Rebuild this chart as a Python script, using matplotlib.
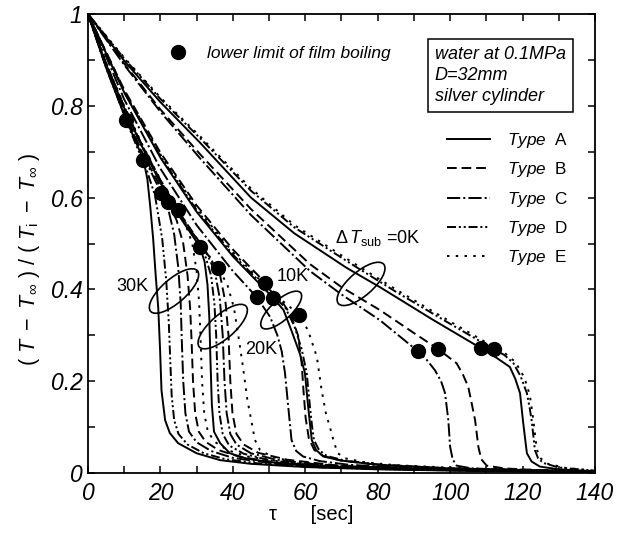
import matplotlib
matplotlib.use('Agg')
import matplotlib.pyplot as plt
from matplotlib.lines import Line2D
from matplotlib.patches import Ellipse
from matplotlib.transforms import ScaledTranslation

# ############################ curves: (tau [sec], (T-Tinf)/(Ti-Tinf)) ##########################

# subcooling 30K
A30 = [(0, 1), (5, .883), (10, .78), (15.3, .683), (16.4, .64), (17.2, .58), (18.0, .51), (18.7, .43), (19.4, .36),
       (19.9, .27), (20.3, .18), (21.3, .115), (22.6, .087), (24.9, .065), (30, .043), (36.5, .028), (45, .02),
       (60, .013), (80, .008), (110, .004), (140, .002)]
B30 = [(0, 1), (5, .887), (10, .787), (15, .698), (22.2, .591), (24.5, .55), (26.3, .5), (27.5, .43), (28.2, .36),
       (28.6, .29), (29, .2), (29.6, .13), (30.6, .09), (32.5, .068), (36, .05), (42, .035), (52, .023), (68, .014),
       (95, .007), (140, .002)]
C30 = [(0, 1), (5, .885), (10, .785), (15, .695), (20.3, .609), (22.3, .57), (23.8, .52), (24.9, .45), (25.6, .37),
       (25.9, .29), (26.3, .2), (26.9, .13), (27.9, .09), (30, .067), (34, .048), (40, .033), (50, .022), (65, .013),
       (90, .007), (140, .002)]
D30 = [(0, 1), (5, .883), (10.5, .77), (13, .72), (16, .665), (18.5, .605), (20.5, .51), (21.6, .42), (22.3, .33),
       (22.7, .25), (23.1, .17), (23.8, .115), (25, .085), (27.5, .062), (32, .043), (38, .03), (48, .02), (65, .012),
       (90, .007), (140, .002)]
E30 = [(0, 1), (5, .89), (10, .795), (15, .71), (20, .635), (24.9, .573), (27, .54), (28.8, .5), (30, .44), (30.7, .37),
       (31.1, .29), (31.5, .2), (32.1, .13), (33.1, .09), (35, .068), (38.5, .05), (44, .036), (54, .024), (70, .014),
       (95, .007), (140, .002)]

# subcooling 20K
A20 = [(0, 1), (5, .89), (10, .795), (15, .71), (20, .632), (25, .562), (30.9, .493), (32.2, .46), (33.0, .41),
       (33.5, .34), (33.8, .25), (34.2, .15), (34.8, .09), (36.5, .065), (39.2, .043), (44, .031), (52, .022),
       (65, .014), (90, .008), (140, .002)]
B20 = [(0, 1), (5, .892), (10, .798), (15, .713), (20, .638), (25, .57), (30, .512), (34, .465), (36.5, .43), (38, .37),
       (38.8, .3), (39.3, .2), (39.9, .13), (41, .085), (43, .062), (47, .044), (55, .029), (68, .017), (95, .009),
       (140, .002)]
C20 = [(0, 1), (5, .891), (10, .797), (15, .712), (20, .637), (25, .568), (30, .51), (33, .475), (35, .44), (36.4, .38),
       (37.2, .3), (37.7, .2), (38.3, .13), (39.3, .085), (41, .062), (45, .043), (52, .029), (65, .017), (90, .009),
       (140, .002)]
D20 = [(0, 1), (5, .89), (10, .795), (15, .71), (20, .635), (25, .565), (30, .505), (32.5, .47), (34, .43), (34.9, .37),
       (35.4, .3), (35.8, .2), (36.3, .13), (37.2, .085), (39, .06), (43, .042), (50, .028), (62, .017), (85, .009),
       (140, .002)]
E20 = [(0, 1), (5, .894), (10, .8), (15, .715), (20, .639), (25, .571), (30, .51), (36, .446), (38.5, .41), (40.3, .36),
       (41.5, .3), (42.8, .231), (44, .16), (45.2, .11), (46.1, .072), (47.5, .05), (51, .035), (57, .024), (70, .015),
       (95, .008), (140, .002)]

# subcooling 10K
A10 = [(0, 1), (10, .829), (20, .687), (30, .569), (40, .472), (51.2, .381), (54, .355), (56.2, .31), (58.5, .26),
       (59.9, .218), (60.8, .144), (61.4, .1), (61.8, .072), (63, .05), (65, .036), (70, .027), (80, .018), (100, .01),
       (140, .003)]
B10 = [(0, 1), (10, .835), (20, .698), (30, .583), (40, .487), (48.9, .415), (53, .38), (56, .345), (58, .3), (59, .24),
       (59.5, .18), (60.1, .12), (61, .075), (62.5, .05), (65, .037), (70, .027), (80, .018), (100, .01), (140, .003)]
C10 = [(0, 1), (10, .814), (20, .663), (30, .54), (40, .44), (46.6, .383), (50.3, .34), (52.3, .3), (53.5, .265),
       (54.4, .218), (55.3, .144), (56.2, .072), (57.5, .048), (59.4, .036), (64, .026), (72, .018), (90, .01),
       (140, .003)]
D10 = [(0, 1), (10, .83), (20, .69), (30, .573), (40, .476), (50, .396), (54.5, .36), (57, .32), (59, .27), (60.4, .218),
       (61.3, .144), (61.9, .1), (62.4, .072), (63.8, .05), (66, .037), (71, .027), (81, .018), (100, .01), (140, .003)]
E10 = [(0, 1), (10, .833), (20, .694), (30, .578), (40, .481), (50, .4), (58.4, .344), (60.8, .31), (63.2, .253),
       (64.5, .181), (65.7, .13), (66.8, .1), (68, .065), (69, .043), (71, .032), (76, .024), (85, .017), (105, .01),
       (140, .004)]

# saturated, 0K
A0 = [(0, 1), (10, .898), (20, .808), (30.9, .72), (45, .6), (57, .522), (71.4, .447), (80.6, .405), (95, .335),
      (108.5, .272), (113, .25), (116.5, .231), (118, .205), (119.3, .174), (120.1, .115), (120.7, .075), (121.2, .043),
      (122.5, .025), (124.8, .014), (130, .008), (140, .004)]
B0 = [(0, 1), (10, .892), (20, .792), (30.9, .695), (45, .575), (61.3, .455), (70, .405), (80.6, .355), (90, .305),
      (96.7, .27), (99, .256), (101.8, .239), (103.5, .215), (105, .188), (106, .15), (106.9, .115), (107.8, .057),
      (108.6, .03), (110.1, .016), (115, .01), (125, .006), (140, .003)]
C0 = [(0, 1), (10, .889), (20, .787), (30.9, .686), (45, .562), (61.3, .44), (70, .389), (80.6, .333), (91, .266),
      (93.5, .247), (95.8, .224), (97.5, .2), (98.6, .174), (99.5, .115), (100, .057), (100.7, .03), (101.8, .016),
      (106, .01), (120, .006), (140, .003)]
D0 = [(0, 1), (10, .903), (20, .815), (30.9, .73), (45, .615), (57, .535), (72.4, .457), (85, .395), (100, .325),
      (112, .27), (115, .257), (117.5, .239), (119.5, .21), (121.2, .174), (122, .14), (122.5, .115), (123, .08),
      (123.4, .05), (124.3, .032), (125.7, .022), (130, .012), (140, .005)]
E0 = [(0, 1), (10, .905), (20, .818), (30.9, .734), (45, .62), (57, .54), (72.4, .462), (85, .4), (100, .33),
      (112, .275), (115, .262), (118, .242), (120.5, .208), (122, .17), (122.9, .12), (123.5, .08), (124, .05),
      (125, .032), (127, .02), (132, .011), (140, .005)]

# lower limit of film boiling
dot_x = [10.5, 15.3, 20.3, 22.2, 24.9, 30.9, 36.0, 46.6, 48.9, 51.2, 58.4, 91.0, 96.7, 108.5, 112.0]
dot_y = [0.77, 0.683, 0.609, 0.591, 0.573, 0.493, 0.446, 0.383, 0.415, 0.381, 0.344, 0.266, 0.27, 0.272, 0.27]

type_names = ['A', 'B', 'C', 'D', 'E']
curves = [(A30, 'A'), (B30, 'B'), (C30, 'C'), (D30, 'D'), (E30, 'E'),
          (A20, 'A'), (B20, 'B'), (C20, 'C'), (D20, 'D'), (E20, 'E'),
          (A10, 'A'), (B10, 'B'), (C10, 'C'), (D10, 'D'), (E10, 'E'),
          (A0, 'A'), (B0, 'B'), (C0, 'C'), (D0, 'D'), (E0, 'E')]

x_ticks = [0, 20, 40, 60, 80, 100, 120, 140]
x_tick_labels = ['0', '20', '40', '60', '80', '100', '120', '140']
y_ticks = [0, 0.2, 0.4, 0.6, 0.8, 1.0]
y_tick_labels = ['0', '0.2', '0.4', '0.6', '0.8', '1']

# ############################################## plot ###############################################################

plt.rcParams['font.family'] = 'Liberation Sans'
plt.rcParams['mathtext.fontset'] = 'custom'
plt.rcParams['mathtext.rm'] = 'Liberation Sans'
plt.rcParams['mathtext.it'] = 'Liberation Sans:italic'
plt.rcParams['mathtext.bf'] = 'Liberation Sans:bold'
plt.rcParams['lines.scale_dashes'] = False

styles = {'A': '-',
          'B': (0, (7, 3.5)),
          'C': (0, (9.5, 2.2, 1.5, 2.2)),
          'D': (0, (6.5, 2, 1.5, 2, 1.5, 2)),
          'E': (0, (1.8, 4.5))}

fig = plt.figure(figsize=(6.24, 5.34), dpi=100)
ax = fig.add_axes([0.141, 0.1142, 0.8125, 0.8596])

for curve, kind in curves:
    xs, ys = zip(*curve)
    ax.plot(xs, ys, color='black', lw=1.4, ls=styles[kind])

ax.plot(dot_x, dot_y, 'o', color='black', ms=10, zorder=5)

ax.set_xlim(0, 140)
ax.set_ylim(0, 1)
ax.set_xticks(x_ticks, x_tick_labels, fontsize=16.5, fontstyle='italic')
ax.set_yticks(y_ticks, y_tick_labels, fontsize=16.5, fontstyle='italic')
ax.set_xticks(range(10, 140, 20), minor=True)
ax.set_yticks([0.1, 0.3, 0.5, 0.7, 0.9], minor=True)
ax.tick_params(which='both', direction='in', top=True, right=True, length=5, width=1.1)
ax.tick_params(axis='x', pad=6.5)
ax.tick_params(axis='y', pad=4)
for sp in ax.spines.values():
    sp.set_linewidth(1.3)

ax.set_xlabel('\u03c4      [sec]', fontsize=14.5)
ax.xaxis.set_label_coords(0.44, -0.07)
ax.set_ylabel(r'$(\ T\ -\ T_{\infty}\ )\ /\ (\ T_{\rm i}\ -\ T_{\infty}\ )$', fontsize=15.5)
ax.yaxis.set_label_coords(-0.09, 0.466)


# rings around each subcooling bundle (sizes in inches, centred on a data point)
def ring(cx, cy, w, h, ang):
    tr = fig.dpi_scale_trans + ScaledTranslation(cx, cy, ax.transData)
    ax.add_patch(Ellipse((0, 0), w, h, angle=ang, transform=tr, fill=False, lw=1.2, ec='black'))


ring(23.75, 0.3965, 0.62, 0.24, 41)
ring(37.2, 0.319, 0.62, 0.24, 41)
ring(53.35, 0.355, 0.52, 0.20, 42)
ring(75.4, 0.412, 0.60, 0.24, 41)

ax.text(12.3, 0.406, '30K', fontsize=13, ha='center', va='center')
ax.text(47.9, 0.27, '20K', fontsize=13, ha='center', va='center')
ax.text(56.6, 0.428, '10K', fontsize=13, ha='center', va='center')
ax.text(68.2, 0.501, r'$\Delta\,T_{\rm sub}$ =0K', fontsize=13, ha='left', va='baseline')

ax.text(0.684, 0.93, 'water at 0.1MPa\nD=32mm\nsilver cylinder', transform=ax.transAxes, fontsize=13,
        style='italic', ha='left', va='top', linespacing=1.3,
        bbox=dict(boxstyle='square,pad=0.4', fc='white', ec='black', lw=1.1))

handles = [Line2D([], [], color='black', lw=1.4, ls=styles[k]) for k in type_names]
labels = [r'$\it{Type}$  ' + k for k in type_names]
leg = ax.legend(handles, labels, loc='upper left', bbox_to_anchor=(0.708, 0.745), frameon=False, fontsize=12.3,
                handlelength=2.5, handletextpad=1.0, labelspacing=0.6, borderpad=0, borderaxespad=0)
ax.add_artist(leg)

ax.legend([Line2D([], [], ls='none', marker='o', ms=10, color='black')], ['lower limit of film boiling'],
          loc='upper left', bbox_to_anchor=(0.160, 0.93), frameon=False, prop={'style': 'italic', 'size': 12.5},
          handlelength=1, handletextpad=1.17, borderpad=0, borderaxespad=0)

fig.savefig('out.png', dpi=100)
